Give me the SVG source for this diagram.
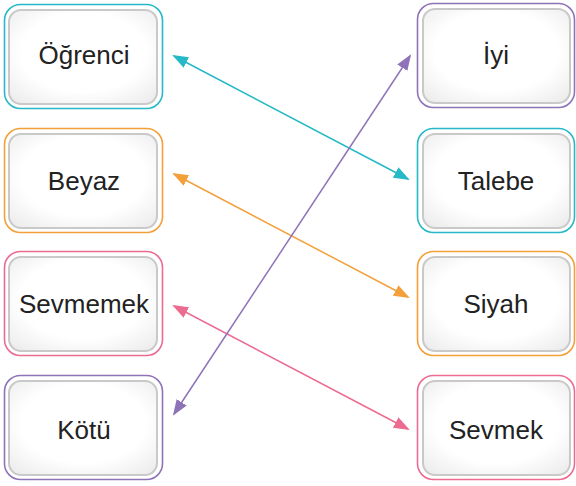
<svg xmlns="http://www.w3.org/2000/svg" width="576" height="486" viewBox="0 0 576 486">
<style>
.o{fill:#fff;stroke-width:1.6}
.i{fill:url(#g);stroke:#c9c9c9;stroke-width:2}
.t{font-family:"Liberation Sans",Arial,sans-serif;font-size:26px;fill:#222;text-anchor:middle}
.c{stroke:#27b9c8}.r{stroke:#f3a03b}.p{stroke:#ec6b91}.v{stroke:#8e73b9}
.l{stroke-width:1.5;fill:none}
</style>
<defs>
<radialGradient id="g" cx="0.5" cy="0.45" r="0.7">
<stop offset="0.6" stop-color="#ffffff"/><stop offset="1" stop-color="#ececec"/>
</radialGradient>
<marker id="mc" markerWidth="16" markerHeight="12" refX="14" refY="6" orient="auto-start-reverse" markerUnits="userSpaceOnUse"><path d="M0,0 L16,6 L0,12 z" fill="#27b9c8"/></marker>
<marker id="mr" markerWidth="16" markerHeight="12" refX="14" refY="6" orient="auto-start-reverse" markerUnits="userSpaceOnUse"><path d="M0,0 L16,6 L0,12 z" fill="#f3a03b"/></marker>
<marker id="mp" markerWidth="16" markerHeight="12" refX="14" refY="6" orient="auto-start-reverse" markerUnits="userSpaceOnUse"><path d="M0,0 L16,6 L0,12 z" fill="#ec6b91"/></marker>
<marker id="mv" markerWidth="16" markerHeight="12" refX="14" refY="6" orient="auto-start-reverse" markerUnits="userSpaceOnUse"><path d="M0,0 L16,6 L0,12 z" fill="#8e73b9"/></marker>
</defs>
<g id="n1"><rect class="o c" x="4.5" y="4.5" width="158" height="104" rx="16"/><rect class="i" x="9" y="10" width="148" height="94" rx="12"/><text class="t" x="84" y="64">Öğrenci</text></g>
<g id="n2"><rect class="o r" x="4.5" y="128.5" width="158" height="104" rx="16"/><rect class="i" x="9" y="134" width="148" height="94" rx="12"/><text class="t" x="84" y="190">Beyaz</text></g>
<g id="n3"><rect class="o p" x="4.5" y="251.5" width="158" height="104" rx="16"/><rect class="i" x="9" y="257" width="148" height="94" rx="12"/><text class="t" x="84" y="313">Sevmemek</text></g>
<g id="n4"><rect class="o v" x="4.5" y="375.5" width="158" height="104" rx="16"/><rect class="i" x="9" y="381" width="148" height="94" rx="12"/><text class="t" x="84" y="439">Kötü</text></g>
<g id="n5"><rect class="o v" x="417.5" y="3.5" width="157" height="104" rx="16"/><rect class="i" x="423" y="9" width="147" height="94" rx="12"/><text class="t" x="496" y="64">İyi</text></g>
<g id="n6"><rect class="o c" x="417.5" y="128.5" width="157" height="104" rx="16"/><rect class="i" x="423" y="134" width="147" height="94" rx="12"/><text class="t" x="496" y="190">Talebe</text></g>
<g id="n7"><rect class="o r" x="417.5" y="251.5" width="157" height="104" rx="16"/><rect class="i" x="423" y="257" width="147" height="94" rx="12"/><text class="t" x="496" y="313">Siyah</text></g>
<g id="n8"><rect class="o p" x="417.5" y="375.5" width="157" height="104" rx="16"/><rect class="i" x="423" y="381" width="147" height="94" rx="12"/><text class="t" x="496" y="439">Sevmek</text></g>
<g id="connectors">
<line class="l c" x1="174" y1="56" x2="408" y2="179" marker-start="url(#mc)" marker-end="url(#mc)"/>
<line class="l r" x1="174" y1="174" x2="408" y2="297" marker-start="url(#mr)" marker-end="url(#mr)"/>
<line class="l p" x1="174" y1="306" x2="408" y2="429" marker-start="url(#mp)" marker-end="url(#mp)"/>
<line class="l v" x1="174" y1="414" x2="410" y2="56" marker-start="url(#mv)" marker-end="url(#mv)"/>
</g>
</svg>
